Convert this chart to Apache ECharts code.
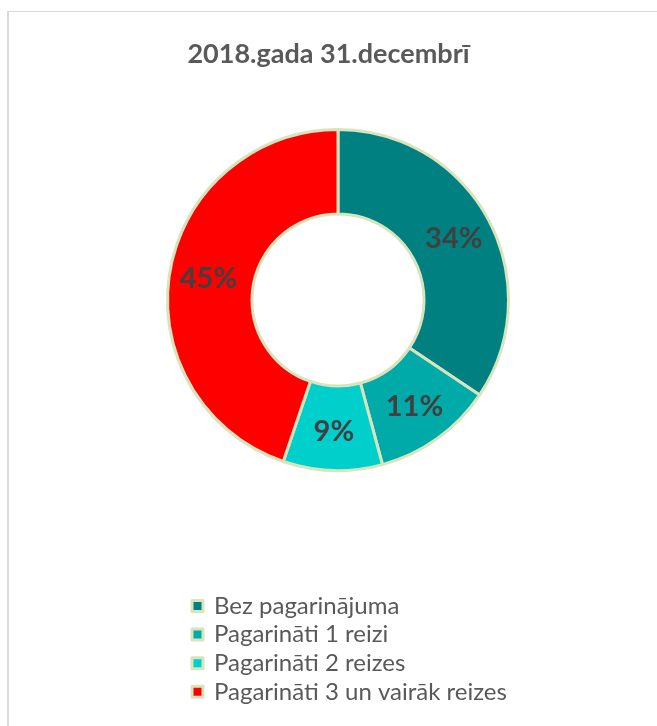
<!DOCTYPE html>
<html>
<head>
<meta charset="utf-8">
<script src="https://cdn.jsdelivr.net/npm/echarts@6/dist/echarts.min.js"></script>
<style>
html,body{margin:0;padding:0;background:#fff;}
#chart{width:657px;height:726px;}
</style>
</head>
<body>
<div id="chart"></div>
<script>
var titleText = '2018.gada 31.decembrī';
var categories = ['Bez pagarinājuma', 'Pagarināti 1 reizi', 'Pagarināti 2 reizes', 'Pagarināti 3 un vairāk reizes'];
var values = [34.4, 11.4, 9.4, 44.8];
var colors = ['#008080', '#00AAA8', '#00CFCC', '#FF0000'];

var chart = echarts.init(document.getElementById('chart'), null, {renderer: 'canvas'});
var data = categories.map(function (c, i) {
  return { name: c, value: values[i], itemStyle: { color: colors[i] } };
});
chart.setOption({
  backgroundColor: '#ffffff',
  animation: false,
  title: {
    text: titleText,
    left: 'center',
    top: 36,
    textStyle: { fontFamily: 'Lato', fontWeight: 'bold', fontSize: 27, color: '#595959' }
  },
  graphic: [
    { type: 'line', shape: { x1: 8, y1: 11.5, x2: 657, y2: 11.5 }, style: { stroke: '#d9d9d9', lineWidth: 1 } },
    { type: 'line', shape: { x1: 8, y1: 11, x2: 8, y2: 726 }, style: { stroke: '#d9d9d9', lineWidth: 2 } }
  ],
  legend: {
    orient: 'vertical',
    left: 190.5,
    top: 594,
    padding: 0,
    itemWidth: 11,
    itemHeight: 11,
    itemGap: 4.6,
    icon: 'rect',
    itemStyle: { borderColor: '#D7E4BD', borderWidth: 3 },
    textStyle: { fontFamily: 'Lato', fontSize: 24, color: '#595959', lineHeight: 24, padding: [0, 0, 0, 6] },
    data: categories
  },
  series: [{
    type: 'pie',
    center: [338, 300],
    radius: [86, 170.5],
    startAngle: 90,
    clockwise: true,
    avoidLabelOverlap: false,
    itemStyle: { borderColor: '#D7E4BD', borderWidth: 3 },
    label: {
      show: true,
      position: 'inside',
      formatter: function (p) { return Math.round(p.value) + '%'; },
      fontFamily: 'Lato',
      fontWeight: 'bold',
      fontSize: 29,
      color: '#404040'
    },
    labelLine: { show: false },
    emphasis: { disabled: true },
    data: data
  }]
});
</script>
</body>
</html>
